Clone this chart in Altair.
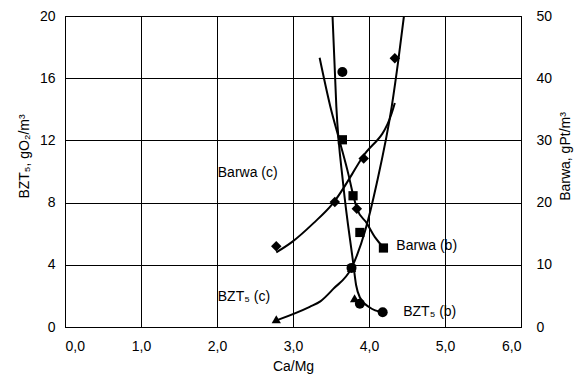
import altair as alt
import pandas as pd

# ---- measured points (markers) ----
bzt_b_x = [3.65, 3.77, 3.88, 4.18]
bzt_b_y = [16.4, 3.8, 1.5, 0.95]
bzt_c_x = [2.78, 3.77, 3.81]
bzt_c_y = [0.5, 3.8, 1.85]
barwa_b_x = [3.65, 3.79, 3.88, 4.19]
barwa_b_y = [30.1, 21.1, 15.2, 12.7]
barwa_c_x = [2.78, 3.55, 3.84, 3.93, 4.34]
barwa_c_y = [13.0, 20.1, 19.0, 27.1, 43.2]

# ---- trend curves ----
bzt_b_curve_x = [3.52, 3.57, 3.66, 3.79, 3.83, 3.88, 4.01, 4.18]
bzt_b_curve_y = [20.0, 14.2, 9.2, 4.2, 2.7, 1.9, 1.25, 0.94]
bzt_c_curve_x = [2.80, 3.22, 3.36, 3.53, 3.77, 3.95, 4.10, 4.30, 4.39, 4.46]
bzt_c_curve_y = [0.46, 1.3, 1.65, 2.45, 3.8, 6.2, 9.2, 14.2, 17.3, 20.0]
barwa_b_curve_x = [3.35, 3.49, 3.62, 3.73, 3.79, 3.84, 3.97, 4.08, 4.19]
barwa_b_curve_y = [43.3, 35.5, 29.6, 24.5, 21.3, 19.1, 16.7, 14.4, 12.8]
barwa_c_curve_x = [2.78, 2.98, 3.27, 3.52, 3.92, 4.30, 4.34]
barwa_c_curve_y = [12.0, 13.6, 16.7, 19.8, 27.4, 34.4, 36.0]

# ---- labels ----
label_text = ["Barwa (c)", "Barwa (b)", "BZT₅ (c)", "BZT₅ (b)"]
label_x = [2.01, 4.36, 2.01, 4.45]
label_y = [9.9, 5.2, 1.9, 0.95]

x_ticks = [0, 1, 2, 3, 4, 5, 6]
left_ticks = [0, 4, 8, 12, 16, 20]
right_ticks = [0, 10, 20, 30, 40, 50]

FONT = "Liberation Sans"


def frame(xs, ys, name):
    return pd.DataFrame({"x": xs, "y": ys, "s": name})


bzt_curves = pd.concat([frame(bzt_b_curve_x, bzt_b_curve_y, "b"),
                        frame(bzt_c_curve_x, bzt_c_curve_y, "c")])
barwa_curves = pd.concat([frame(barwa_b_curve_x, barwa_b_curve_y, "b"),
                          frame(barwa_c_curve_x, barwa_c_curve_y, "c")])
labels = pd.DataFrame({"x": label_x, "y": label_y, "t": label_text})

X = alt.X("x:Q",
          scale=alt.Scale(domain=[0, 6], nice=False, zero=False),
          axis=alt.Axis(values=x_ticks, title="Ca/Mg",
                        labelExpr="replace(format(datum.value, '.1f'), '.', ',')",
                        grid=True, gridColor="black", gridOpacity=1, gridWidth=1,
                        ticks=False, labelPadding=12, titlePadding=6,
                        domainColor="black"))
Xp = alt.X("x:Q", scale=alt.Scale(domain=[0, 6], nice=False, zero=False))

YL = alt.Y("y:Q",
           scale=alt.Scale(domain=[0, 20], nice=False),
           axis=alt.Axis(values=left_ticks, title="BZT₅, gO₂/m³",
                         grid=True, gridColor="black", gridOpacity=1, gridWidth=1,
                         ticks=False, labelPadding=10, titlePadding=8,
                         titleY=140, titleAlign="center",
                         domainColor="black"))
YLp = alt.Y("y:Q", scale=alt.Scale(domain=[0, 20], nice=False))

YR = alt.Y("y:Q",
           scale=alt.Scale(domain=[0, 50], nice=False),
           axis=alt.Axis(values=right_ticks, title="Barwa, gPt/m³", orient="right",
                         grid=False, ticks=False, labelPadding=15, titlePadding=7,
                         titleAngle=270, titleBaseline="top", titleAlign="center",
                         titleY=140, domainColor="black"))
YRp = alt.Y("y:Q", scale=alt.Scale(domain=[0, 50], nice=False))


def pts(xs, ys, shape, y_enc, size=70):
    return alt.Chart(frame(xs, ys, shape)).mark_point(
        filled=True, shape=shape, size=size, color="black", opacity=1
    ).encode(x=Xp, y=y_enc)


left = alt.layer(
    alt.Chart(bzt_curves).mark_line(color="black", strokeWidth=2,
                                    interpolate="monotone", clip=True)
    .encode(x=X, y=YL, detail="s:N"),
    pts(bzt_b_x, bzt_b_y, "circle", YLp, 100),
    pts(bzt_c_x, bzt_c_y, "triangle-up", YLp, 85),
    alt.Chart(labels).mark_text(align="left", baseline="middle", font=FONT,
                                fontSize=14, color="black")
    .encode(x=Xp, y=YLp, text="t:N"),
)

right = alt.layer(
    alt.Chart(barwa_curves).mark_line(color="black", strokeWidth=2,
                                      interpolate="monotone", clip=True)
    .encode(x=Xp, y=YR, detail="s:N"),
    pts(barwa_b_x, barwa_b_y, "square", YRp, 85),
    pts(barwa_c_x, barwa_c_y, "diamond", YRp, 110),
)

chart = alt.layer(left, right).resolve_scale(y="independent").properties(
    width=456, height=311,
    autosize=alt.AutoSizeParams(type="none"),
    padding={"left": 57, "top": 8, "right": 56, "bottom": 52},
    background="white",
).configure_view(stroke="black", strokeWidth=1).configure_axis(
    labelFont=FONT, labelFontSize=14, labelColor="black",
    titleFont=FONT, titleFontSize=14, titleFontWeight="normal", titleColor="black",
)

chart.save("out.html", embed_options={"renderer": "svg", "actions": False})
